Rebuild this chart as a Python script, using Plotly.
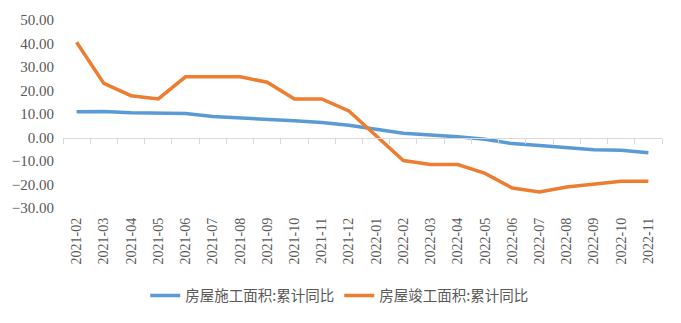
import plotly.graph_objects as go

months = ["2021-02", "2021-03", "2021-04", "2021-05", "2021-06", "2021-07", "2021-08",
          "2021-09", "2021-10", "2021-11", "2021-12", "2022-01", "2022-02", "2022-03",
          "2022-04", "2022-05", "2022-06", "2022-07", "2022-08", "2022-09", "2022-10",
          "2022-11"]
construction = [11.0, 11.1, 10.5, 10.4, 10.2, 8.9, 8.4, 7.9, 7.1, 6.4, 5.2, None, 1.8,
                1.1, 0.3, -0.7, -2.6, -3.4, -4.3, -5.2, -5.4, -6.5]
completion = [40.5, 23.0, 17.8, 16.4, 25.8, 25.8, 25.8, 23.5, 16.4, 16.4, 11.3, None, -9.8,
              -11.5, -11.5, -15.3, -21.5, -23.2, -21.1, -19.9, -18.6, -18.6]
y_ticks = [-30, -20, -10, 0, 10, 20, 30, 40, 50]

name_a = "房屋施工面积:累计同比"
name_b = "房屋竣工面积:累计同比"

fig = go.Figure()
fig.add_trace(go.Scatter(x=months, y=construction, name=name_a, mode="lines",
                         connectgaps=True, line=dict(color="#5B9BD5", width=3.5)))
fig.add_trace(go.Scatter(x=months, y=completion, name=name_b, mode="lines",
                         connectgaps=True, line=dict(color="#ED7D31", width=3.5)))
# invisible helper trace for the zero-line axis carrying tick marks
fig.add_trace(go.Scatter(x=months, y=[0] * len(months), xaxis="x2", mode="lines",
                         line=dict(width=0), opacity=0, showlegend=False, hoverinfo="skip"))

lo, hi = -30, 50
xr = [-0.5, len(months) - 0.5]
fig.update_layout(
    width=681, height=323,
    margin=dict(l=62, r=19, t=18, b=114),
    paper_bgcolor="white", plot_bgcolor="white",
    font=dict(family="Liberation Serif", color="#595959"),
    showlegend=True,
    legend=dict(orientation="h", x=0.462, xanchor="center",
                y=-0.466, yanchor="middle",
                font=dict(family="Noto Sans CJK SC", size=14.5, color="#595959"),
                itemwidth=30, traceorder="normal"),
    xaxis=dict(type="category", range=xr, showgrid=False, showline=False, zeroline=False,
               ticks="", tickangle=-90, tickfont=dict(size=14, color="#595959"),
               ticklabelstandoff=6),
    xaxis2=dict(type="category", range=xr, overlaying="x", anchor="free",
                position=(0 - lo) / (hi - lo), showgrid=False, showline=True,
                linecolor="#D9D9D9", linewidth=1, ticks="outside", tickson="boundaries",
                ticklen=5, tickcolor="#D9D9D9", showticklabels=False, side="bottom"),
    yaxis=dict(range=[lo, hi], tickvals=y_ticks, tickformat=".2f", showgrid=False,
               zeroline=False, showline=False, ticks="",
               tickfont=dict(size=15, color="#595959"), ticklabelstandoff=8),
)

fig.write_html("out.html")
